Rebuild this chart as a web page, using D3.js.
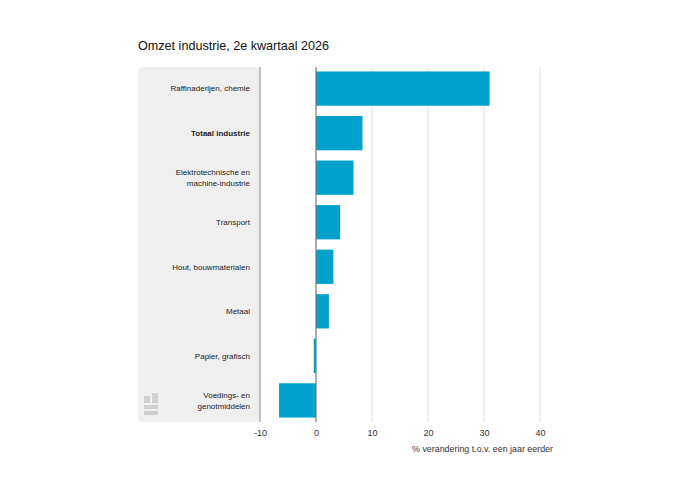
<!DOCTYPE html>
<html>
<head>
<meta charset="utf-8">
<script src="https://cdn.jsdelivr.net/npm/d3@7"></script>
<style>
  body { margin: 0; background: #fff; }
  svg { font-family: "Liberation Sans", Arial, sans-serif; }
</style>
</head>
<body>
<svg id="chart" width="700" height="500"></svg>
<script>
// data
const categories = [
  ["Raffinaderijen, chemie"],
  ["Totaal industrie"],
  ["Elektrotechnische en", "machine-industrie"],
  ["Transport"],
  ["Hout, bouwmaterialen"],
  ["Metaal"],
  ["Papier, grafisch"],
  ["Voedings- en", "genotmiddelen"]
];
const values = [31.0, 8.3, 6.7, 4.3, 3.1, 2.3, -0.4, -6.6];
const xTicks = [-10, 0, 10, 20, 30, 40];
const boldIndex = 1;

const svg = d3.select("#chart");

// layout
const panelLeft = 138, panelTop = 67, panelBottom = 422;
const plotLeft = 260, plotRight = 540;

const keys = categories.map((d, i) => i);

const x = d3.scaleLinear()
    .domain([-10, 40])
    .range([plotLeft, plotRight]);

const y = d3.scaleBand()
    .domain(keys)
    .range([panelTop, panelBottom])
    .paddingInner(0.23)
    .paddingOuter(0.1);

// titel
svg.append("text")
    .attr("x", 138)
    .attr("y", 50)
    .attr("font-size", 12.6)
    .attr("fill", "#111")
    .text("Omzet industrie, 2e kwartaal 2026");

// grijs label-vlak met afgeronde linkerhoeken
const r = 5;
svg.append("path")
    .attr("fill", "#efefef")
    .attr("d", `M${plotLeft},${panelTop} H${panelLeft + r} Q${panelLeft},${panelTop} ${panelLeft},${panelTop + r}
               V${panelBottom - r} Q${panelLeft},${panelBottom} ${panelLeft + r},${panelBottom} H${plotLeft} Z`);

// gridlijnen
svg.append("g")
    .selectAll("line")
    .data(xTicks.filter(d => d > 0))
    .join("line")
      .attr("x1", d => x(d))
      .attr("x2", d => x(d))
      .attr("y1", panelTop)
      .attr("y2", panelBottom)
      .attr("stroke", "#dcdcdc")
      .attr("stroke-width", 1);

// rand van het label-vlak
svg.append("line")
    .attr("x1", x(-10)).attr("x2", x(-10))
    .attr("y1", panelTop).attr("y2", panelBottom)
    .attr("stroke", "#8a8a8a")
    .attr("stroke-width", 1);

// staven
svg.append("g")
    .attr("fill", "#00a1cd")
  .selectAll("rect")
  .data(values)
  .join("rect")
    .attr("x", d => x(Math.min(0, d)))
    .attr("y", (d, i) => y(i))
    .attr("width", d => Math.abs(x(d) - x(0)))
    .attr("height", y.bandwidth());

// nullijn
svg.append("line")
    .attr("x1", x(0)).attr("x2", x(0))
    .attr("y1", panelTop).attr("y2", panelBottom)
    .attr("stroke", "#777")
    .attr("stroke-width", 1.2);

// categorie-labels
const labels = svg.append("g")
    .attr("font-size", 8)
    .attr("fill", "#222")
    .attr("text-anchor", "end")
  .selectAll("text")
  .data(categories)
  .join("text")
    .attr("x", 250)
    .attr("font-weight", (d, i) => i === boldIndex ? "bold" : null)
    .attr("y", (d, i) => y(i) + y.bandwidth() / 2 - (d.length - 1) * 5.5);

labels.selectAll("tspan")
  .data(d => d)
  .join("tspan")
    .attr("x", 250)
    .attr("dy", (d, j) => j === 0 ? "0.35em" : 11)
    .text(d => d);

// x-as
const xAxis = svg.append("g")
    .attr("transform", `translate(0,${panelBottom})`)
    .call(d3.axisBottom(x).tickValues(xTicks).tickFormat(d => String(d)).tickSize(0).tickPadding(8))
    .call(g => g.select(".domain").remove());

xAxis.selectAll("text")
    .attr("font-size", 9)
    .attr("font-family", "Liberation Sans, Arial, sans-serif")
    .attr("fill", "#333");

svg.append("text")
    .attr("x", 553)
    .attr("y", 452)
    .attr("text-anchor", "end")
    .attr("font-size", 8.9)
    .attr("fill", "#333")
    .text("% verandering t.o.v. een jaar eerder");

// CBS-logo (vereenvoudigd)
const logo = svg.append("g")
    .attr("transform", "translate(144,393)")
    .attr("fill", "#cfcfcf");
logo.append("rect").attr("x", 0).attr("y", 3).attr("width", 6).attr("height", 7);
logo.append("rect").attr("x", 8).attr("y", 0).attr("width", 6).attr("height", 10);
logo.append("rect").attr("x", 0).attr("y", 12).attr("width", 14).attr("height", 4);
logo.append("rect").attr("x", 0).attr("y", 18).attr("width", 14).attr("height", 4);
</script>
</body>
</html>
